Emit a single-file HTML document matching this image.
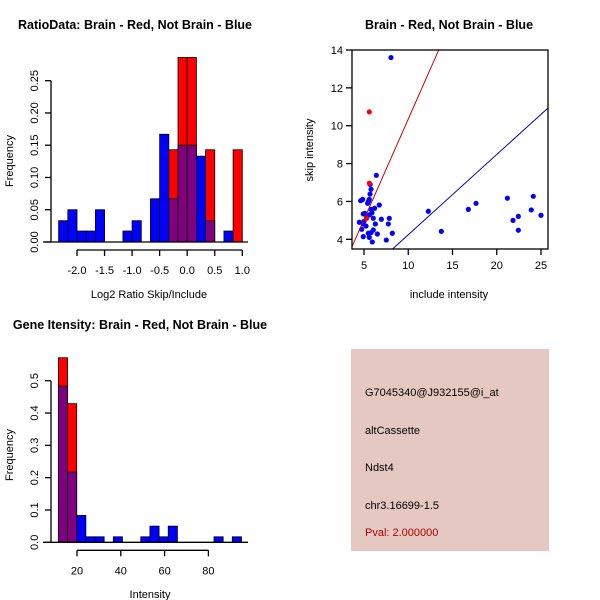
<!DOCTYPE html>
<html><head><meta charset="utf-8"><style>
body{margin:0;background:#fff;}
svg{display:block;font-family:"Liberation Sans",sans-serif;}
</style></head><body>
<svg id="c" width="600" height="600" xmlns="http://www.w3.org/2000/svg">
<rect width="600" height="600" fill="#fff"/>
<text x="135" y="29" font-size="12.5" font-weight="bold" text-anchor="middle">RatioData: Brain - Red, Not Brain - Blue</text>
<text x="149" y="298" font-size="11" text-anchor="middle">Log2 Ratio Skip/Include</text>
<text transform="translate(13,161) rotate(-90)" font-size="11" text-anchor="middle">Frequency</text>
<text x="449" y="29" font-size="12.5" font-weight="bold" text-anchor="middle">Brain - Red, Not Brain - Blue</text>
<text x="449" y="298" font-size="11" text-anchor="middle">include intensity</text>
<text transform="translate(313,150) rotate(-90)" font-size="11" text-anchor="middle">skip intensity</text>
<text x="140" y="329" font-size="12.5" font-weight="bold" text-anchor="middle">Gene Itensity: Brain - Red, Not Brain - Blue</text>
<text x="150" y="598" font-size="11" text-anchor="middle">Intensity</text>
<text transform="translate(13,455) rotate(-90)" font-size="11" text-anchor="middle">Frequency</text>
<g>
<rect x="351" y="349" width="198" height="202" fill="#e6c8c2"/>
<text x="365" y="396" font-size="11">G7045340@J932155@i_at</text>
<text x="365" y="434" font-size="11">altCassette</text>
<text x="365" y="471" font-size="11">Ndst4</text>
<text x="365" y="509" font-size="11">chr3.16699-1.5</text>
<text x="365" y="536" font-size="11" fill="#b00000">Pval: 2.000000</text>
</g>
</svg>
<script>
// ratio histogram data
const ratioStart = -2.3333, ratioWidth = 1/6;
const ratioBlue = [0.033,0.05,0.017,0.017,0.05,0,0,0.017,0.033,0,0.067,0.167,0.067,0.15,0.15,0.133,0.033,0,0.017,0];
const ratioRed  = [0,0,0,0,0,0,0,0,0,0,0,0,0.143,0.286,0.286,0,0.143,0,0,0.143];
const ratioXTicks = [-2.0,-1.5,-1.0,-0.5,0.0,0.5,1.0];
const ratioXLabels = ["-2.0","-1.5","-1.0","-0.5","0.0","0.5","1.0"];
const ratioYTicks = [0,0.05,0.10,0.15,0.20,0.25];
const ratioYLabels = ["0.00","0.05","0.10","0.15","0.20","0.25"];
// intensity histogram data
const intStart = 11.5, intWidth = 4.18;
const intBlue = [0.483,0.217,0.083,0.017,0.017,0,0.017,0,0,0.017,0.05,0.017,0.05,0,0,0,0,0.017,0,0.017];
const intRed  = [0.571,0.429,0,0,0,0,0,0,0,0,0,0,0,0,0,0,0,0,0,0];
const intXTicks = [20,40,60,80];
const intYTicks = [0,0.1,0.2,0.3,0.4,0.5];
const intYLabels = ["0.0","0.1","0.2","0.3","0.4","0.5"];
// scatter data
const blueX = [8.05,6.39,5.79,5.68,4.85,4.62,5.6,6.73,5.41,6.2,5.79,4.92,5.1,5.6,6.05,6.96,7.86,7.75,4.47,4.92,5.23,4.74,6.28,6.05,5.79,5.49,6.51,4.92,5.6,5.94,7.52,8.2,12.27,13.74,16.79,17.66,21.2,21.84,22.44,22.44,24.13,23.9,25.0,5.3,5.5,5.9,5.0,5.7];
const blueY = [13.6,7.38,6.64,6.39,6.11,6.04,6.11,5.81,5.9,5.64,5.58,5.34,5.37,5.29,5.11,5.06,5.11,4.81,4.9,4.81,4.7,4.53,4.81,4.49,4.35,4.32,4.28,4.14,4.1,3.86,3.96,4.32,5.48,4.42,5.58,5.9,6.17,5.0,5.21,4.48,6.27,5.55,5.27,5.2,6.0,5.4,4.95,6.9];
const redX = [5.6,5.6,5.3];
const redY = [10.73,6.96,5.11];
const scXTicks = [5,10,15,20,25];
const scYTicks = [4,6,8,10,12,14];
const redLine = {slope:1.06, intercept:-0.25};
const blueLine = {slope:0.424, intercept:0.0};

const svg = document.getElementById('c');
const NS = 'http://www.w3.org/2000/svg';
function mk(tag, attrs){const e=document.createElementNS(NS,tag);for(const k in attrs)e.setAttribute(k,attrs[k]);svg.appendChild(e);return e;}

function hist(xs, ys, start, width, blue, red, xt, xl, yt, yl, base, prefix){
  const n = blue.length;
  for(let i=0;i<n;i++){
    const x0=xs(start+i*width), x1=xs(start+(i+1)*width);
    const r=red[i], b=blue[i], m=Math.min(r,b);
    if(r>0){const e=mk('rect',{x:x0,y:ys(r),width:x1-x0,height:ys(0)-ys(r),fill:'#ff0000',stroke:'#000','stroke-width':0.8});
      
      }
    if(b>0){const top = r>b? m : b;
      const e=mk('rect',{x:x0,y:ys(b),width:x1-x0,height:ys(0)-ys(b),fill: r>0?'#800080':'#0000ff',stroke:'#000','stroke-width':0.8});
      
      
      if(r>0 && b>r){const e2=mk('rect',{x:x0,y:ys(b),width:x1-x0,height:ys(r)-ys(b),fill:'#0000ff',stroke:'#000','stroke-width':0.8});
        
        }
    }
  }
  mk('line',{x1:base[0],x2:base[1],y1:ys(0),y2:ys(0),stroke:'#000','stroke-width':1.3});
  // x axis
  const ay=ys(0)+8;
  mk('line',{x1:xs(xt[0]),x2:xs(xt[xt.length-1]),y1:ay,y2:ay,stroke:'#000','stroke-width':1.3});
  xt.forEach((v,i)=>{mk('line',{x1:xs(v),x2:xs(v),y1:ay,y2:ay+6,stroke:'#000','stroke-width':1.3});
    const t=mk('text',{x:xs(v),y:ay+24,'font-size':11,'text-anchor':'middle'});t.textContent=xl[i];
    
    });
  const ax=51;
  mk('line',{x1:ax,x2:ax,y1:ys(yt[0]),y2:ys(yt[yt.length-1]),stroke:'#000','stroke-width':1.3});
  yt.forEach((v,i)=>{mk('line',{x1:ax-6,x2:ax,y1:ys(v),y2:ys(v),stroke:'#000','stroke-width':1.3});
    const t=mk('text',{transform:`translate(${ax-13},${ys(v)}) rotate(-90)`,'font-size':11,'text-anchor':'middle'});t.textContent=yl[i];
    
    });
}
// ratio
const rx=v=>77+(v+2)*55.1, ry=v=>242-v*645.2;
hist(rx,ry,ratioStart,ratioWidth,ratioBlue,ratioRed,ratioXTicks,ratioXLabels,ratioYTicks,ratioYLabels,[43,248],'ratio');
// intensity
const ix=v=>77+(v-20)*2.19, iy=v=>542.3-v*323.2;
hist(ix,iy,intStart,intWidth,intBlue,intRed,intXTicks,intXTicks.map(String),intYTicks,intYLabels,[43,248],'intensity');
// scatter
const sx=v=>364+(v-5)*8.85, sy=v=>239.3-(v-4)*18.93;
const L=352,R=548,T=50,B=249;
const defs=document.createElementNS(NS,'clipPath');defs.setAttribute('id','clip');
const cr=document.createElementNS(NS,'rect');cr.setAttribute('x',L);cr.setAttribute('y',T);cr.setAttribute('width',R-L);cr.setAttribute('height',B-T);defs.appendChild(cr);svg.appendChild(defs);
blueX.forEach((v,i)=>{const c=mk('circle',{cx:sx(v),cy:sy(blueY[i]),r:2.6,fill:'#0000ff'});
  
  });
redX.forEach((v,i)=>{const c=mk('circle',{cx:sx(v),cy:sy(redY[i]),r:2.6,fill:'#ff0000'});
  
  });
function fitLine(p,col,name){const xa=2,xb=30;
  const l=mk('line',{x1:sx(xa),y1:sy(p.slope*xa+p.intercept),x2:sx(xb),y2:sy(p.slope*xb+p.intercept),stroke:col,'stroke-width':1,'clip-path':'url(#clip)'});
  
  }
fitLine(redLine,'#cc0000','red-fit-line');
fitLine(blueLine,'#0000aa','blue-fit-line');
const box=mk('rect',{x:L,y:T,width:R-L,height:B-T,fill:'none',stroke:'#000','stroke-width':1.3});


scXTicks.forEach(v=>{mk('line',{x1:sx(v),x2:sx(v),y1:B,y2:B+6,stroke:'#000','stroke-width':1.3});
  const t=mk('text',{x:sx(v),y:B+20,'font-size':11,'text-anchor':'middle'});t.textContent=v;
  
  });
scYTicks.forEach(v=>{mk('line',{x1:L-6,x2:L,y1:sy(v),y2:sy(v),stroke:'#000','stroke-width':1.3});
  const t=mk('text',{x:L-9,y:sy(v)+4,'font-size':11,'text-anchor':'end'});t.textContent=v;
  
  });
</script>
</body></html>
